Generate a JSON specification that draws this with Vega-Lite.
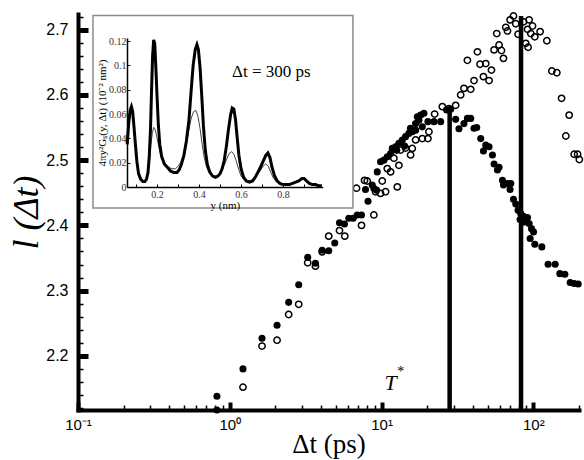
{
 "$schema": "https://vega.github.io/schema/vega-lite/v6.json",
 "width": 501, "height": 396,
 "autosize": "none",
 "padding": {"left": 78, "top": 14, "right": 5, "bottom": 50},
 "background": "white",
 "config": {"view": {"stroke": null}, "axis": {"grid": false}},
 "datasets": {
  "filled": [
   {"t":0.823,"l":2.138},{"t":0.823,"l":2.117},{"t":1.222,"l":2.180},{"t":1.631,"l":2.227},{"t":2.049,"l":2.247},{"t":2.444,"l":2.282},{"t":2.846,"l":2.309},{"t":3.262,"l":2.351},{"t":3.668,"l":2.342},{"t":4.061,"l":2.362},{"t":4.488,"l":2.361},{"t":4.918,"l":2.373},{"t":5.283,"l":2.404},{"t":5.699,"l":2.402},{"t":6.085,"l":2.411},{"t":6.505,"l":2.411},{"t":6.913,"l":2.416},{"t":7.379,"l":2.416},{"t":8.146,"l":2.437},{"t":7.843,"l":2.455},{"t":8.683,"l":2.462},{"t":8.897,"l":2.457},{"t":9.268,"l":2.454},{"t":9.368,"l":2.482},{"t":9.849,"l":2.4975},{"t":10.36,"l":2.500},{"t":10.91,"l":2.505},{"t":11.47,"l":2.510},{"t":11.77,"l":2.518},{"t":12.37,"l":2.5205},{"t":13.01,"l":2.526},{"t":13.70,"l":2.531},{"t":14.40,"l":2.536},{"t":15.14,"l":2.541},{"t":15.94,"l":2.5435},{"t":16.77,"l":2.546},{"t":16.77,"l":2.556},{"t":17.63,"l":2.561},{"t":18.09,"l":2.569},{"t":19.02,"l":2.572},{"t":17.20,"l":2.5665},{"t":18.56,"l":2.551},{"t":20.21,"l":2.559},{"t":22.14,"l":2.559},{"t":24.52,"l":2.559},{"t":26.85,"l":2.577},{"t":28.54,"l":2.578},{"t":30.79,"l":2.5625},{"t":34.93,"l":2.556},{"t":36.79,"l":2.564},{"t":38.68,"l":2.564},{"t":32.37,"l":2.548},{"t":40.67,"l":2.549},{"t":42.37,"l":2.550},{"t":45.03,"l":2.533},{"t":48.60,"l":2.523},{"t":51.10,"l":2.5205},{"t":46.93,"l":2.514},{"t":53.80,"l":2.508},{"t":55.13,"l":2.494},{"t":59.48,"l":2.489},{"t":58.04,"l":2.485},{"t":62.62,"l":2.469},{"t":67.55,"l":2.464},{"t":71.03,"l":2.464},{"t":63.58,"l":2.462},{"t":70.28,"l":2.455},{"t":74.00,"l":2.440},{"t":76.64,"l":2.4326},{"t":79.37,"l":2.423},{"t":82.69,"l":2.418},{"t":86.15,"l":2.414},{"t":91.55,"l":2.412},{"t":81.82,"l":2.409},{"t":86.95,"l":2.405},{"t":93.83,"l":2.403},{"t":97.3,"l":2.395},{"t":100.3,"l":2.390},{"t":95.26,"l":2.380},{"t":102.3,"l":2.371},{"t":113.8,"l":2.367},{"t":125.2,"l":2.3405},{"t":139.3,"l":2.3405},{"t":149.6,"l":2.326},{"t":161.4,"l":2.325},{"t":175.0,"l":2.3125},{"t":185.9,"l":2.311},{"t":197.6,"l":2.310},{"t":14.2,"l":2.5215},{"t":12.6,"l":2.515},{"t":15.5,"l":2.549}
  ],
  "open": [
   {"t":1.222,"l":2.152},{"t":1.631,"l":2.215},{"t":2.049,"l":2.224},{"t":2.444,"l":2.2634},{"t":2.846,"l":2.279},{"t":3.262,"l":2.3426},{"t":3.668,"l":2.3375},{"t":4.061,"l":2.3594},{"t":4.488,"l":2.3835},{"t":5.283,"l":2.392},{"t":5.726,"l":2.3835},{"t":7.379,"l":2.400},{"t":8.897,"l":2.416},{"t":6.839,"l":2.457},{"t":7.724,"l":2.469},{"t":8.045,"l":2.468},{"t":9.128,"l":2.4515},{"t":9.849,"l":2.449},{"t":10.63,"l":2.4515},{"t":10.11,"l":2.468},{"t":12.70,"l":2.459},{"t":10.91,"l":2.487},{"t":11.47,"l":2.482},{"t":13.01,"l":2.492},{"t":12.06,"l":2.503},{"t":15.54,"l":2.508},{"t":15.94,"l":2.518},{"t":18.56,"l":2.533},{"t":20.21,"l":2.533},{"t":20.52,"l":2.5435},{"t":22.38,"l":2.5706},{"t":25.16,"l":2.582},{"t":27.81,"l":2.579},{"t":30.79,"l":2.584},{"t":33.22,"l":2.600},{"t":34.93,"l":2.610},{"t":38.68,"l":2.6085},{"t":40.67,"l":2.622},{"t":46.93,"l":2.628},{"t":51.10,"l":2.622},{"t":36.79,"l":2.653},{"t":42.82,"l":2.666},{"t":44.56,"l":2.647},{"t":48.60,"l":2.648},{"t":52.99,"l":2.638},{"t":55.13,"l":2.669},{"t":59.48,"l":2.6765},{"t":61.68,"l":2.668},{"t":63.58,"l":2.656},{"t":57.42,"l":2.694},{"t":65.84,"l":2.7036},{"t":67.55,"l":2.698},{"t":70.28,"l":2.715},{"t":74.00,"l":2.721},{"t":76.64,"l":2.709},{"t":79.37,"l":2.693},{"t":86.15,"l":2.712},{"t":93.83,"l":2.715},{"t":91.55,"l":2.7005},{"t":98.79,"l":2.7056},{"t":96.27,"l":2.694},{"t":102.3,"l":2.689},{"t":110.9,"l":2.697},{"t":122.8,"l":2.683},{"t":92.4,"l":2.673},{"t":89.2,"l":2.679},{"t":132.5,"l":2.6366},{"t":142.9,"l":2.634},{"t":153.5,"l":2.5947},{"t":172.3,"l":2.569},{"t":163.8,"l":2.537},{"t":185.9,"l":2.509},{"t":195.8,"l":2.509},{"t":201,"l":2.501},{"t":13.35,"l":2.5154},{"t":14.40,"l":2.5185},{"t":16.77,"l":2.531}
  ],
  "markers": [{"t":28.1,"top":2.581},{"t":83.0,"top":2.721}],
  "thick": [
   {"r":0.058,"g":0.035},{"r":0.065,"g":0.052},{"r":0.072,"g":0.063},{"r":0.078,"g":0.066},{"r":0.084,"g":0.062},{"r":0.090,"g":0.050},{"r":0.097,"g":0.035},{"r":0.104,"g":0.021},{"r":0.112,"g":0.011},{"r":0.122,"g":0.0065},{"r":0.132,"g":0.0045},{"r":0.142,"g":0.0045},{"r":0.150,"g":0.0065},{"r":0.157,"g":0.012},{"r":0.163,"g":0.025},{"r":0.169,"g":0.048},{"r":0.174,"g":0.080},{"r":0.179,"g":0.108},{"r":0.184,"g":0.121},{"r":0.189,"g":0.118},{"r":0.194,"g":0.100},{"r":0.200,"g":0.075},{"r":0.206,"g":0.052},{"r":0.213,"g":0.035},{"r":0.222,"g":0.025},{"r":0.235,"g":0.019},{"r":0.250,"g":0.016},{"r":0.265,"g":0.013},{"r":0.280,"g":0.012},{"r":0.295,"g":0.012},{"r":0.305,"g":0.014},{"r":0.315,"g":0.018},{"r":0.328,"g":0.026},{"r":0.340,"g":0.038},{"r":0.352,"g":0.055},{"r":0.362,"g":0.078},{"r":0.372,"g":0.100},{"r":0.382,"g":0.113},{"r":0.390,"g":0.117},{"r":0.397,"g":0.113},{"r":0.405,"g":0.098},{"r":0.413,"g":0.075},{"r":0.421,"g":0.050},{"r":0.430,"g":0.030},{"r":0.440,"g":0.018},{"r":0.452,"g":0.012},{"r":0.465,"g":0.009},{"r":0.478,"g":0.008},{"r":0.490,"g":0.009},{"r":0.500,"g":0.011},{"r":0.510,"g":0.015},{"r":0.520,"g":0.022},{"r":0.530,"g":0.033},{"r":0.540,"g":0.047},{"r":0.550,"g":0.059},{"r":0.558,"g":0.065},{"r":0.566,"g":0.064},{"r":0.574,"g":0.055},{"r":0.582,"g":0.040},{"r":0.590,"g":0.026},{"r":0.600,"g":0.015},{"r":0.612,"g":0.008},{"r":0.625,"g":0.005},{"r":0.640,"g":0.004},{"r":0.655,"g":0.005},{"r":0.668,"g":0.008},{"r":0.680,"g":0.012},{"r":0.692,"g":0.016},{"r":0.705,"g":0.021},{"r":0.718,"g":0.026},{"r":0.728,"g":0.028},{"r":0.738,"g":0.024},{"r":0.748,"g":0.016},{"r":0.760,"g":0.009},{"r":0.772,"g":0.005},{"r":0.785,"g":0.003},{"r":0.800,"g":0.002},{"r":0.815,"g":0.002},{"r":0.830,"g":0.002},{"r":0.845,"g":0.003},{"r":0.860,"g":0.004},{"r":0.875,"g":0.005},{"r":0.890,"g":0.007},{"r":0.900,"g":0.007},{"r":0.912,"g":0.005},{"r":0.925,"g":0.003},{"r":0.940,"g":0.002},{"r":0.955,"g":0.002},{"r":0.970,"g":0.001},{"r":0.985,"g":0.001}
  ],
  "thin": [
   {"r":0.058,"g":0.035},{"r":0.065,"g":0.052},{"r":0.072,"g":0.062},{"r":0.078,"g":0.065},{"r":0.084,"g":0.061},{"r":0.090,"g":0.049},{"r":0.097,"g":0.034},{"r":0.104,"g":0.021},{"r":0.112,"g":0.012},{"r":0.122,"g":0.007},{"r":0.132,"g":0.005},{"r":0.142,"g":0.005},{"r":0.150,"g":0.007},{"r":0.157,"g":0.012},{"r":0.164,"g":0.022},{"r":0.171,"g":0.035},{"r":0.178,"g":0.045},{"r":0.184,"g":0.049},{"r":0.190,"g":0.048},{"r":0.197,"g":0.043},{"r":0.205,"g":0.036},{"r":0.215,"g":0.028},{"r":0.228,"g":0.022},{"r":0.242,"g":0.018},{"r":0.258,"g":0.016},{"r":0.272,"g":0.015},{"r":0.288,"g":0.015},{"r":0.300,"g":0.017},{"r":0.312,"g":0.020},{"r":0.325,"g":0.026},{"r":0.338,"g":0.034},{"r":0.350,"g":0.045},{"r":0.362,"g":0.056},{"r":0.374,"g":0.062},{"r":0.385,"g":0.063},{"r":0.395,"g":0.058},{"r":0.405,"g":0.048},{"r":0.415,"g":0.035},{"r":0.425,"g":0.024},{"r":0.437,"g":0.016},{"r":0.450,"g":0.011},{"r":0.465,"g":0.009},{"r":0.480,"g":0.009},{"r":0.495,"g":0.010},{"r":0.508,"g":0.013},{"r":0.520,"g":0.018},{"r":0.532,"g":0.023},{"r":0.545,"g":0.028},{"r":0.556,"g":0.029},{"r":0.566,"g":0.027},{"r":0.576,"g":0.022},{"r":0.588,"g":0.015},{"r":0.600,"g":0.009},{"r":0.615,"g":0.006},{"r":0.630,"g":0.005},{"r":0.645,"g":0.005},{"r":0.660,"g":0.007},{"r":0.675,"g":0.010},{"r":0.690,"g":0.013},{"r":0.705,"g":0.017},{"r":0.718,"g":0.019},{"r":0.730,"g":0.017},{"r":0.742,"g":0.012},{"r":0.755,"g":0.007},{"r":0.770,"g":0.004},{"r":0.785,"g":0.003}
  ]
 },
 "layer": [
  {
   "layer": [
    {
     "data": {"name": "filled"},
     "mark": {"type": "point", "shape": "circle", "filled": true, "color": "black", "size": 50, "opacity": 1},
     "encoding": {
      "x": {"field": "t", "type": "quantitative",
        "scale": {"type": "log", "domain": [0.1, 200], "nice": false},
        "axis": {"orient": "bottom", "tickCount": 200, "zindex": 1,
          "values": [0.1,0.2,0.3,0.4,0.5,0.6,0.7,0.8,0.9,1,2,3,4,5,6,7,8,9,10,20,30,40,50,60,70,80,90,100,200],
          "labelExpr": "abs(log(datum.value)/LN10 - round(log(datum.value)/LN10)) < 0.01 ? (datum.value < 0.5 ? '10⁻¹' : datum.value < 5 ? '10⁰' : datum.value < 50 ? '10¹' : '10²') : ''",
          "tickSize": {"condition": {"test": "abs(log(datum.value)/LN10 - round(log(datum.value)/LN10)) < 0.01", "value": -8}, "value": -5},
          "tickWidth": {"condition": {"test": "abs(log(datum.value)/LN10 - round(log(datum.value)/LN10)) < 0.01", "value": 4}, "value": 1.5},
          "tickColor": "black", "domainColor": "black", "domainWidth": 4, "domainCap": "square",
          "labelFont": "Liberation Sans", "labelFontSize": 15, "labelColor": "black", "labelPadding": 15,
          "labelFlush": false, "labelOverlap": false,
          "title": "Δt (ps)", "titleFont": "Liberation Serif", "titleFontSize": 27, "titleFontWeight": "normal", "titleColor": "black", "titlePadding": -4}},
      "y": {"field": "l", "type": "quantitative",
        "scale": {"domain": [2.117, 2.724], "nice": false, "zero": false},
        "axis": {"orient": "left", "tickCount": 200, "zindex": 1,
          "values": [2.12,2.14,2.16,2.18,2.2,2.22,2.24,2.26,2.28,2.3,2.32,2.34,2.36,2.38,2.4,2.42,2.44,2.46,2.48,2.5,2.52,2.54,2.56,2.58,2.6,2.62,2.64,2.66,2.68,2.7,2.72],
          "labelExpr": "abs(datum.value*10 - round(datum.value*10)) < 0.01 ? format(datum.value, '.1f') : ''",
          "tickSize": {"condition": {"test": "abs(datum.value*10 - round(datum.value*10)) < 0.01", "value": -10}, "value": -5},
          "tickWidth": {"condition": {"test": "abs(datum.value*10 - round(datum.value*10)) < 0.01", "value": 5}, "value": 1.5},
          "tickColor": "black", "domainColor": "black", "domainWidth": 4, "domainCap": "square",
          "labelFont": "Liberation Sans", "labelFontSize": 16, "labelColor": "black", "labelPadding": 20,
          "labelFlush": false, "labelOverlap": false,
          "title": "l (Δt)", "titleFont": "Liberation Serif", "titleFontStyle": "italic", "titleFontSize": 36, "titleFontWeight": "normal", "titleColor": "black", "titlePadding": 0}}
     }
    },
    {
     "data": {"name": "open"},
     "mark": {"type": "point", "shape": "circle", "filled": false, "stroke": "black", "strokeWidth": 1.5, "size": 40, "opacity": 1},
     "encoding": {
      "x": {"field": "t", "type": "quantitative"},
      "y": {"field": "l", "type": "quantitative"}
     }
    },
    {
     "data": {"name": "markers"},
     "mark": {"type": "rule", "color": "black", "strokeWidth": 4.5},
     "encoding": {
      "x": {"field": "t", "type": "quantitative"},
      "y": {"field": "top", "type": "quantitative"},
      "y2": {"datum": 2.117}
     }
    },
    {
     "data": {"values": [{}]},
     "mark": {"type": "text", "text": "T", "font": "Liberation Serif", "fontStyle": "italic", "fontSize": 22, "fill": "black", "align": "center", "baseline": "middle"},
     "encoding": {"x": {"datum": 11.47, "type": "quantitative"}, "y": {"datum": 2.158, "type": "quantitative"}}
    },
    {
     "data": {"values": [{}]},
     "mark": {"type": "text", "text": "*", "font": "Liberation Serif", "fontSize": 14, "fill": "black", "align": "center", "baseline": "middle"},
     "encoding": {"x": {"datum": 13.4, "type": "quantitative"}, "y": {"datum": 2.176, "type": "quantitative"}}
    }
   ]
  },
  {
   "layer": [
    {
     "data": {"values": [{}]},
     "mark": {"type": "rect", "fill": "white", "stroke": "#8c8c8c", "strokeWidth": 1.5},
     "encoding": {
      "x": {"datum": -0.105, "type": "quantitative"},
      "x2": {"datum": 1.133},
      "y": {"datum": 0.1411, "type": "quantitative"},
      "y2": {"datum": -0.0172}
     }
    },
    {
     "data": {"name": "thin"},
     "mark": {"type": "line", "color": "#444444", "strokeWidth": 1},
     "encoding": {
      "x": {"field": "r", "type": "quantitative"},
      "y": {"field": "g", "type": "quantitative"}
     }
    },
    {
     "data": {"name": "thick"},
     "mark": {"type": "line", "color": "black", "strokeWidth": 3},
     "encoding": {
      "x": {"field": "r", "type": "quantitative",
        "scale": {"domain": [0.057, 0.989], "range": [49, 244.7], "nice": false, "zero": false},
        "axis": {"orient": "bottom", "offset": -223, "zindex": 2, "tickCount": 200,
          "values": [0.1,0.2,0.3,0.4,0.5,0.6,0.7,0.8,0.9],
          "labelExpr": "indexof(['0.2','0.4','0.6','0.8'], format(datum.value, '.1f')) >= 0 ? format(datum.value, '.1f') : ''",
          "tickSize": -3, "tickWidth": 1, "tickColor": "black", "domainColor": "black", "domainWidth": 1.5,
          "labelFont": "Liberation Serif", "labelFontSize": 10, "labelColor": "#333333", "labelPadding": 5,
          "labelFlush": false, "labelOverlap": false,
          "title": "y (nm)", "titleFont": "Liberation Serif", "titleFontSize": 11, "titleFontWeight": "normal", "titleColor": "black", "titlePadding": 0}},
      "y": {"field": "g", "type": "quantitative",
        "scale": {"domain": [0, 0.1225], "range": [173, 24], "nice": false, "zero": false},
        "axis": {"orient": "left", "offset": -49, "zindex": 2, "tickCount": 200,
          "values": [0,0.02,0.04,0.06,0.08,0.1,0.12],
          "labelExpr": "format(datum.value, '~g')",
          "tickSize": -3, "tickWidth": 1, "tickColor": "black", "domainColor": "black", "domainWidth": 1.5,
          "labelFont": "Liberation Serif", "labelFontSize": 10, "labelColor": "#333333", "labelPadding": 4,
          "labelFlush": false, "labelOverlap": false,
          "title": "4πy²Gₛ(y, Δt) (10⁻² nm²)", "titleFont": "Liberation Serif", "titleFontSize": 11, "titleFontWeight": "normal", "titleColor": "black", "titlePadding": 1}}
     }
    },
    {
     "data": {"values": [{}]},
     "mark": {"type": "text", "text": "Δt = 300 ps", "font": "Liberation Serif", "fontSize": 17, "fill": "black", "align": "left", "baseline": "middle"},
     "encoding": {"x": {"datum": 0.557, "type": "quantitative"}, "y": {"datum": 0.0943, "type": "quantitative"}}
    }
   ]
  }
 ],
 "resolve": {"scale": {"x": "independent", "y": "independent"}, "axis": {"x": "independent", "y": "independent"}}
}
